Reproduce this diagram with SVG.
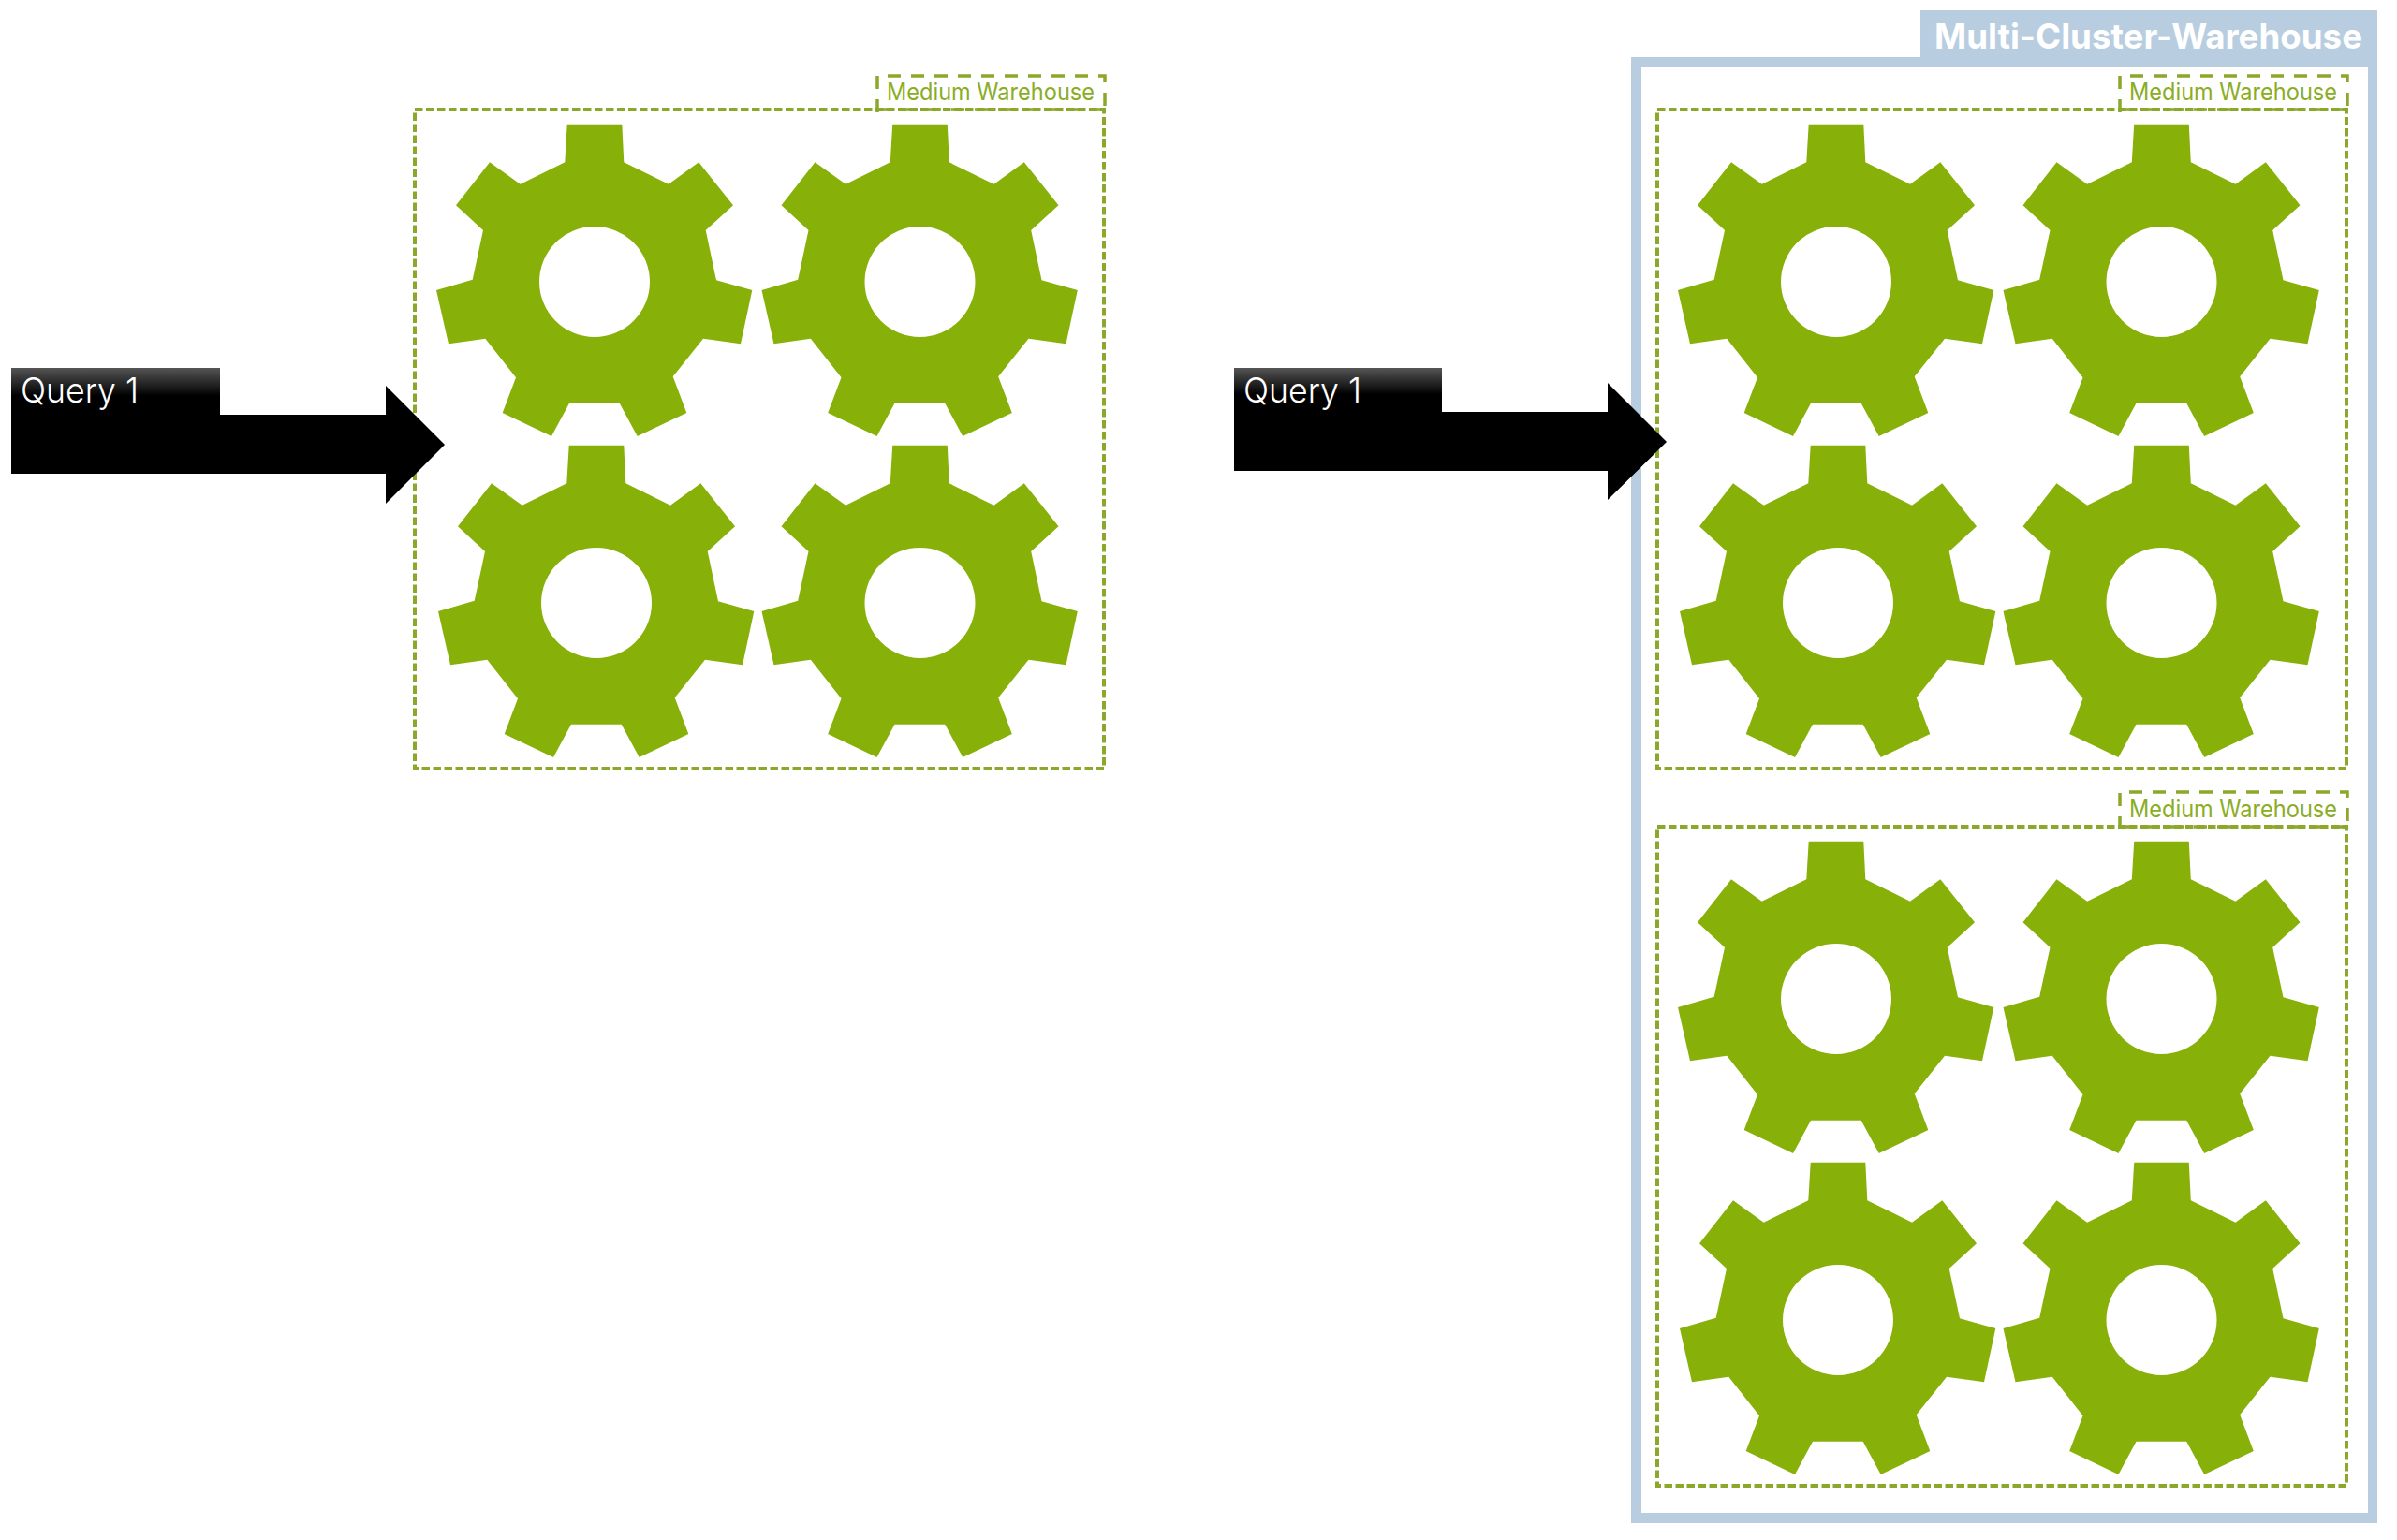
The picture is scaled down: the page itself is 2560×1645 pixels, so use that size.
<svg xmlns="http://www.w3.org/2000/svg" xmlns:xlink="http://www.w3.org/1999/xlink" width="2560" height="1645" viewBox="0 0 2560 1645">
<defs>
<style>
.box{fill:none;stroke:#8ba82a;stroke-width:4;stroke-dasharray:8.5 3.5}
.lab{fill:none;stroke:#8ba82a;stroke-width:3.5;stroke-dasharray:14 11}
.wl{font-family:Inter,"Liberation Sans",sans-serif;font-size:25px;fill:#8aad25}
.q{font-family:Inter,"Liberation Sans",sans-serif;font-size:37px;font-weight:300;fill:#fff}
.t{font-family:Inter,"Liberation Sans",sans-serif;font-size:37px;font-weight:700;fill:#fff}
</style>
<linearGradient id="shine" x1="0" y1="0" x2="0" y2="1"><stop offset="0" stop-color="#555"/><stop offset="0.6" stop-color="#000"/></linearGradient>
<path id="gear" fill="#87b109" fill-rule="evenodd" d="M-29.3-168.3L29.3-168.3L31.3-127.7L79-104.3L111.3-127.7L148-81.7L118.7-55L130-1.7L168.3 9L156 66.3L116 60.7L83.7 101.3L98.3 140L45.7 165L26.7 129.7L-27 129.7L-46 165L-98.3 140L-84 102.3L-116.7 60.7L-156 66.3L-169 9L-130.3-2.3L-119-55L-148-81.7L-112-127.7L-79.3-104.3L-31.7-127.7ZM59 0A59 59 0 1 0-59 0A59 59 0 1 0 59 0Z"/>
</defs>
<rect width="2560" height="1645" fill="#fff"/>
<g id="multi-cluster-warehouse">
<path fill="#b8cee0" fill-rule="evenodd" d="M1742 61H2051V11H2539V1627H1742ZM1753 72V1616H2529V72Z"/>
<text class="t" x="2066" y="52" textLength="457" lengthAdjust="spacingAndGlyphs">Multi-Cluster-Warehouse</text>
</g>
<g id="warehouse-left">
<rect class="box" x="443" y="117" width="736" height="704"/>
<path class="lab" d="M937 120V81H1180V120M1180 117H937"/>
<text class="wl" x="947" y="107" textLength="222" lengthAdjust="spacingAndGlyphs">Medium Warehouse</text>
<use xlink:href="#gear" href="#gear" x="635" y="301"/>
<use xlink:href="#gear" href="#gear" x="982.5" y="301"/>
<use xlink:href="#gear" href="#gear" x="637" y="644"/>
<use xlink:href="#gear" href="#gear" x="982.5" y="644"/>
</g>
<g id="warehouse-right-1">
<rect class="box" x="1770" y="117" width="736" height="704"/>
<path class="lab" d="M2264 120V81H2507V120M2507 117H2264"/>
<text class="wl" x="2274" y="107" textLength="222" lengthAdjust="spacingAndGlyphs">Medium Warehouse</text>
<use xlink:href="#gear" href="#gear" x="1961" y="301"/>
<use xlink:href="#gear" href="#gear" x="2308.5" y="301"/>
<use xlink:href="#gear" href="#gear" x="1963" y="644"/>
<use xlink:href="#gear" href="#gear" x="2308.5" y="644"/>
</g>
<g id="warehouse-right-2">
<rect class="box" x="1770" y="883" width="736" height="704"/>
<path class="lab" d="M2264 886V846H2507V886M2507 883H2264"/>
<text class="wl" x="2274" y="873" textLength="222" lengthAdjust="spacingAndGlyphs">Medium Warehouse</text>
<use xlink:href="#gear" href="#gear" x="1961" y="1067"/>
<use xlink:href="#gear" href="#gear" x="2308.5" y="1067"/>
<use xlink:href="#gear" href="#gear" x="1963" y="1410"/>
<use xlink:href="#gear" href="#gear" x="2308.5" y="1410"/>
</g>
<g id="connectors">
<g id="query-left">
<path fill="#000" d="M12 393H235V443H412V412L475 475L412 538V506H12Z"/>
<rect x="12" y="393" width="223" height="50" fill="url(#shine)"/>
<text class="q" x="22" y="430" textLength="126" lengthAdjust="spacingAndGlyphs">Query 1</text>
</g>
<g id="query-right">
<path fill="#000" d="M1318 393H1540V440H1717V409L1780 472L1717 534V503H1318Z"/>
<rect x="1318" y="393" width="222" height="47" fill="url(#shine)"/>
<text class="q" x="1328" y="430" textLength="126" lengthAdjust="spacingAndGlyphs">Query 1</text>
</g>
</g>
</svg>
